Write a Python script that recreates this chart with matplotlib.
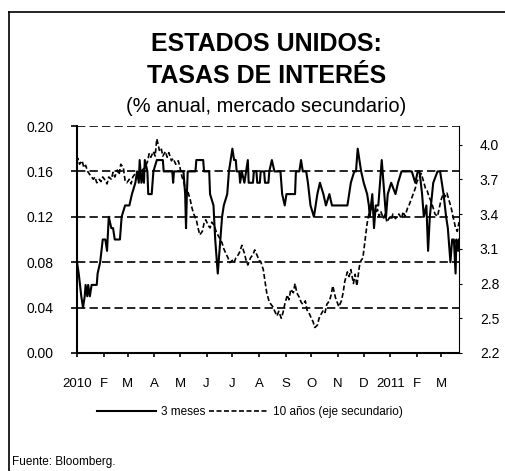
import matplotlib
matplotlib.use("Agg")
import matplotlib.pyplot as plt
from matplotlib.lines import Line2D
from matplotlib.ticker import FixedLocator, FuncFormatter
import pandas as pd

plt.rcParams['font.family'] = ['Liberation Sans', 'DejaVu Sans']

start = pd.Timestamp('2010-01-01')

# 3-month T-bill yield (left axis), days since 2010-01-01
days_3m = [0, 2, 5, 7, 9, 10, 12, 13, 15, 17, 21, 23, 24, 27, 30, 33, 35, 37, 40, 42,
           44, 50, 52, 56, 61, 64, 68, 70, 72, 73, 75, 77, 78, 79, 82, 83, 87, 89, 93, 100,
           101, 111, 112, 113, 124, 126, 127, 128, 129, 138, 139, 147, 148, 154, 155, 159, 161, 164, 167, 169,
           171, 175, 177, 179, 181, 183, 185, 186, 189, 190, 192, 195, 197, 199, 200, 205, 206, 209, 210, 213,
           214, 218, 219, 223, 224, 227, 230, 237, 239, 242, 244, 254, 255, 259, 261, 263, 267, 269, 272, 276,
           280, 283, 287, 290, 294, 297, 315, 317, 319, 323, 325, 327, 331, 334, 338, 340, 341, 344, 346, 348,
           351, 353, 355, 358, 360, 362, 366, 371, 374, 378, 390, 394, 397, 399, 402, 404, 407, 409, 411, 415,
           420, 423, 427, 430, 432, 435, 437, 439, 441, 442, 444, 445]
rate_3m = [0.08, 0.07, 0.05, 0.04, 0.05, 0.06, 0.05, 0.06, 0.05, 0.06, 0.06, 0.06, 0.07, 0.08, 0.10, 0.10, 0.09, 0.12, 0.11, 0.11,
           0.10, 0.10, 0.12, 0.13, 0.13, 0.14, 0.15, 0.16, 0.15, 0.17, 0.15, 0.16, 0.15, 0.17, 0.16, 0.14, 0.14, 0.16, 0.17, 0.17,
           0.16, 0.16, 0.15, 0.16, 0.16, 0.14, 0.11, 0.14, 0.16, 0.16, 0.17, 0.17, 0.16, 0.16, 0.14, 0.13, 0.10, 0.07, 0.10, 0.12,
           0.13, 0.14, 0.16, 0.17, 0.18, 0.17, 0.17, 0.16, 0.16, 0.15, 0.16, 0.15, 0.16, 0.17, 0.15, 0.15, 0.16, 0.16, 0.15, 0.15,
           0.16, 0.16, 0.15, 0.15, 0.16, 0.17, 0.16, 0.16, 0.14, 0.13, 0.14, 0.14, 0.16, 0.16, 0.17, 0.16, 0.16, 0.15, 0.13, 0.12,
           0.14, 0.15, 0.14, 0.13, 0.14, 0.13, 0.13, 0.14, 0.15, 0.16, 0.16, 0.18, 0.16, 0.15, 0.14, 0.13, 0.12, 0.14, 0.11, 0.13,
           0.13, 0.15, 0.17, 0.14, 0.12, 0.14, 0.15, 0.14, 0.15, 0.16, 0.16, 0.15, 0.16, 0.16, 0.14, 0.12, 0.13, 0.09, 0.12, 0.15,
           0.16, 0.16, 0.14, 0.12, 0.11, 0.08, 0.10, 0.10, 0.07, 0.10, 0.09, 0.10]

# 10-year Treasury yield (right axis), days since 2010-01-01
days_10y = [0, 1, 3, 6, 8, 10, 13, 15, 19, 21, 23, 26, 28, 30, 33, 35, 37, 40, 42, 44,
            47, 49, 51, 54, 56, 58, 61, 63, 65, 69, 72, 76, 79, 82, 84, 86, 89, 91, 93, 96,
            98, 100, 103, 105, 107, 110, 112, 115, 118, 120, 122, 125, 127, 129, 132, 134, 136, 139, 141, 143,
            146, 148, 150, 153, 155, 157, 160, 162, 164, 167, 169, 171, 174, 176, 178, 181, 183, 185, 188, 190,
            192, 195, 197, 199, 202, 205, 207, 210, 212, 214, 217, 219, 221, 224, 226, 228, 231, 233, 235, 238,
            240, 242, 245, 247, 249, 252, 254, 256, 259, 261, 263, 266, 268, 270, 273, 275, 277, 280, 282, 284,
            287, 289, 291, 294, 296, 298, 301, 303, 305, 308, 310, 312, 315, 317, 319, 322, 324, 326, 329, 331,
            333, 336, 338, 340, 343, 345, 347, 350, 352, 354, 357, 359, 361, 364, 366, 368, 371, 373, 375, 378,
            380, 382, 385, 387, 389, 392, 394, 396, 399, 401, 403, 406, 408, 410, 413, 415, 417, 420, 422, 424,
            427, 429, 431, 434, 436, 438, 441, 443, 445]
rate_10y = [3.85, 3.88, 3.83, 3.86, 3.80, 3.82, 3.76, 3.74, 3.70, 3.72, 3.67, 3.70, 3.68, 3.72, 3.69, 3.66, 3.72, 3.70, 3.76, 3.72,
            3.78, 3.74, 3.83, 3.80, 3.69, 3.67, 3.70, 3.66, 3.72, 3.76, 3.74, 3.78, 3.80, 3.85, 3.92, 3.89, 3.94, 3.90, 4.05, 3.95,
            3.97, 3.90, 3.94, 3.89, 3.93, 3.86, 3.88, 3.83, 3.86, 3.80, 3.73, 3.66, 3.55, 3.60, 3.52, 3.45, 3.40, 3.35, 3.28, 3.22,
            3.25, 3.32, 3.35, 3.30, 3.28, 3.33, 3.30, 3.25, 3.22, 3.18, 3.15, 3.10, 3.05, 3.02, 2.98, 3.00, 2.98, 3.02, 3.05, 3.08,
            3.13, 3.06, 3.00, 2.96, 3.02, 3.05, 3.09, 3.04, 3.00, 2.99, 2.92, 2.82, 2.72, 2.64, 2.62, 2.60, 2.55, 2.52, 2.56, 2.50,
            2.55, 2.62, 2.70, 2.66, 2.75, 2.72, 2.80, 2.72, 2.68, 2.64, 2.62, 2.65, 2.57, 2.55, 2.50, 2.47, 2.42, 2.44, 2.50, 2.53,
            2.57, 2.55, 2.62, 2.65, 2.70, 2.78, 2.68, 2.64, 2.60, 2.65, 2.72, 2.82, 2.90, 2.86, 2.92, 2.80, 2.88, 2.78, 2.95, 3.00,
            3.02, 3.20, 3.32, 3.40, 3.45, 3.46, 3.40, 3.44, 3.38, 3.42, 3.36, 3.40, 3.33, 3.37, 3.35, 3.40, 3.36, 3.38, 3.40, 3.36,
            3.42, 3.38, 3.45, 3.48, 3.52, 3.58, 3.62, 3.68, 3.72, 3.75, 3.70, 3.62, 3.60, 3.55, 3.50, 3.45, 3.40, 3.38, 3.45, 3.52,
            3.58, 3.55, 3.58, 3.50, 3.45, 3.38, 3.28, 3.25, 3.33]

month_labels = ['2010', 'F', 'M', 'A', 'M', 'J', 'J', 'A', 'S', 'O', 'N', 'D', '2011', 'F', 'M']
left_ticks = [0.00, 0.04, 0.08, 0.12, 0.16, 0.20]
right_ticks = [2.2, 2.5, 2.8, 3.1, 3.4, 3.7, 4.0]

dates_3m = start + pd.to_timedelta(days_3m, unit='D')
dates_10y = start + pd.to_timedelta(days_10y, unit='D')
month_ticks = pd.date_range('2010-01-01', periods=len(month_labels), freq='MS')

fig = plt.figure(figsize=(5.05, 4.71), dpi=100)
ax = fig.add_axes([77 / 505, 1 - 353 / 471, (459 - 77) / 505, (353 - 126) / 471])
ax2 = ax.twinx()

l1, = ax.plot(dates_3m, rate_3m, color='black', lw=1.5, zorder=3)
l2, = ax2.plot(dates_10y, rate_10y, color='black', lw=1.2, linestyle=(0, (3, 1.5)), zorder=3)

ax.set_xlim(start, start + pd.Timedelta(days=445))
ax.set_ylim(0, 0.20)
ax2.set_ylim(2.2, 4.16)

ax.yaxis.set_major_locator(FixedLocator(left_ticks))
ax.yaxis.set_major_formatter(FuncFormatter(lambda v, p: f'{v:.2f}'))
ax2.yaxis.set_major_locator(FixedLocator(right_ticks))
ax2.yaxis.set_major_formatter(FuncFormatter(lambda v, p: f'{v:.1f}'))
ax.set_xticks(month_ticks)
ax.set_xticklabels(month_labels)

ax.grid(axis='y', color='black', linestyle=(0, (5, 2.5)), lw=1.2)
ax.set_axisbelow(True)

for a in (ax, ax2):
    a.spines['top'].set_visible(False)
ax2.spines['left'].set_visible(False)
ax2.spines['bottom'].set_visible(False)
ax.spines['right'].set_visible(False)
ax.spines['left'].set_linewidth(1.5)
ax.spines['bottom'].set_linewidth(1.5)
ax2.spines['right'].set_linewidth(0.8)
ax2.spines['right'].set_linestyle((0, (1, 1)))

ax.tick_params(axis='y', length=4, width=1.2, pad=13, labelsize=10)
ax.tick_params(axis='x', length=3, width=1.2, pad=15, labelsize=9.5)
ax2.tick_params(axis='y', length=2, width=0.8, pad=13, labelsize=10)

fig.text(0.528, 1 - 44 / 471, 'ESTADOS UNIDOS:', ha='center', va='center',
         fontsize=18, fontweight='bold')
fig.text(0.528, 1 - 76 / 471, 'TASAS DE INTERÉS', ha='center', va='center',
         fontsize=18, fontweight='bold')
fig.text(0.527, 1 - 106 / 471, '(% anual, mercado secundario)', ha='center', va='center',
         fontsize=14.5)

fig.legend([l1, l2], ['3 meses', '10 años (eje secundario)'], ncol=2,
           loc='center', bbox_to_anchor=(250 / 505, 1 - 412 / 471), frameon=False,
           handlelength=5, handletextpad=0.4, columnspacing=0.3, fontsize=8.5)

fig.text(12 / 505, 1 - 462 / 471, 'Fuente: Bloomberg.', ha='left', va='center', fontsize=8.5)

fig.add_artist(Line2D([9 / 505, 9 / 505], [0, 1 - 12 / 471], color='black', lw=1.2))
fig.add_artist(Line2D([9 / 505, 1], [1 - 12 / 471, 1 - 12 / 471], color='black', lw=1.2))

fig.savefig('out.png', dpi=100)
